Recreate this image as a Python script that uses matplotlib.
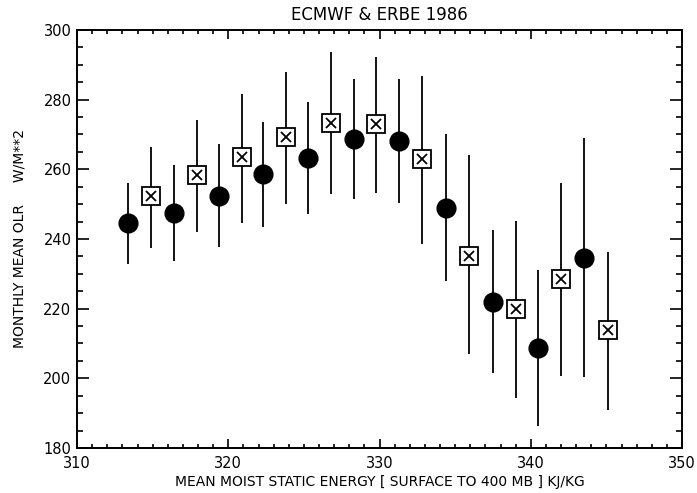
import matplotlib
matplotlib.use('Agg')
import matplotlib.pyplot as plt
from matplotlib.ticker import MultipleLocator

# ECMWF points (filled circles) with their spread
ecmwf_x = [313.4, 316.4, 319.4, 322.3, 325.3, 328.3, 331.3, 334.4, 337.5, 340.5, 343.5]
ecmwf_olr = [244.7, 247.4, 252.4, 258.6, 263.3, 268.8, 268.1, 248.9, 221.9, 208.8, 234.6]
ecmwf_hi = [256.2, 261.2, 267.2, 273.7, 279.4, 285.8, 285.8, 270.1, 242.6, 231.1, 268.9]
ecmwf_lo = [232.8, 233.8, 237.6, 243.4, 247.2, 251.5, 250.4, 228.0, 201.4, 186.3, 200.5]

# ERBE points (boxed crosses) with their spread
erbe_x = [314.9, 317.9, 320.9, 323.8, 326.8, 329.8, 332.8, 335.9, 339.0, 342.0, 345.1]
erbe_olr = [252.3, 258.3, 263.4, 269.2, 273.2, 273.0, 262.9, 235.2, 219.9, 228.4, 213.9]
erbe_hi = [266.5, 274.2, 281.6, 287.9, 293.6, 292.3, 286.8, 264.1, 245.2, 256.0, 236.3]
erbe_lo = [237.5, 242.0, 244.7, 249.9, 252.9, 253.1, 238.6, 206.9, 194.4, 200.7, 190.9]

plt.rcParams['font.family'] = ['DejaVu Sans']

fig = plt.figure(figsize=(6.97, 4.93), dpi=100)
ax = fig.add_axes([0.1105, 0.0913, 0.868, 0.848])

# vertical spread lines, no caps
ax.vlines(ecmwf_x, ecmwf_lo, ecmwf_hi, color='black', lw=1.3, zorder=2)
ax.vlines(erbe_x, erbe_lo, erbe_hi, color='black', lw=1.3, zorder=2)

ax.plot(ecmwf_x, ecmwf_olr, 'o', ms=13.5, color='black', zorder=3)
ax.plot(erbe_x, erbe_olr, 's', ms=13, mfc='white', mec='black', mew=1.3, zorder=3)
ax.plot(erbe_x, erbe_olr, 'x', ms=7, color='black', mew=1.3, zorder=4)

ax.set_xlim(310, 350)
ax.set_ylim(180, 300)
ax.xaxis.set_major_locator(MultipleLocator(10))
ax.xaxis.set_minor_locator(MultipleLocator(1))
ax.yaxis.set_major_locator(MultipleLocator(20))
ax.yaxis.set_minor_locator(MultipleLocator(5))

ax.tick_params(axis='both', which='both', direction='in', top=True, right=True,
               labelsize=10.5, width=1.2)
ax.tick_params(axis='x', which='major', length=6.5, pad=6)
ax.tick_params(axis='x', which='minor', length=3.2)
ax.tick_params(axis='y', which='major', length=8.6, pad=4)
ax.tick_params(axis='y', which='minor', length=4.3)
for s in ax.spines.values():
    s.set_linewidth(1.4)

ax.set_title('ECMWF & ERBE 1986', fontsize=12, pad=7)
ax.set_xlabel('MEAN MOIST STATIC ENERGY [ SURFACE TO 400 MB ] KJ/KG', fontsize=10, labelpad=3)
ax.set_ylabel('MONTHLY MEAN OLR     W/M**2', fontsize=10, labelpad=12)

fig.savefig('out.png', dpi=100)
